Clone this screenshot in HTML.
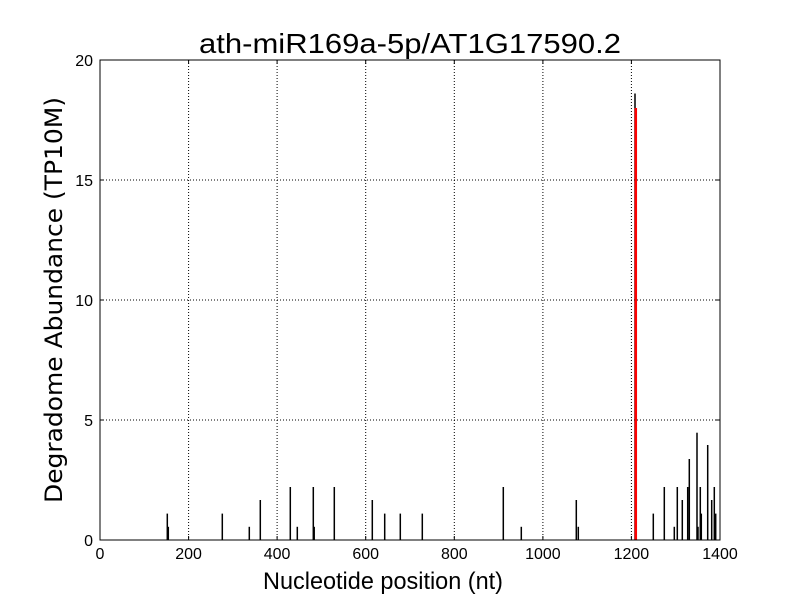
<!DOCTYPE html>
<html><head><meta charset="utf-8"><style>body{margin:0;background:#fff}svg{display:block}</style></head><body>
<svg width="800" height="600" xmlns="http://www.w3.org/2000/svg" font-family="DejaVu Sans, Liberation Sans, sans-serif">
<rect width="800" height="600" fill="#fff"/>
<g stroke="#000" stroke-width="1" stroke-dasharray="1,2">
<line x1="188.6" y1="60" x2="188.6" y2="540"/><line x1="277.1" y1="60" x2="277.1" y2="540"/><line x1="365.7" y1="60" x2="365.7" y2="540"/><line x1="454.3" y1="60" x2="454.3" y2="540"/><line x1="542.9" y1="60" x2="542.9" y2="540"/><line x1="631.4" y1="60" x2="631.4" y2="540"/>
<line x1="100" y1="420" x2="720" y2="420"/><line x1="100" y1="300" x2="720" y2="300"/><line x1="100" y1="180" x2="720" y2="180"/>
</g>
<g stroke="#000" stroke-width="1.5">
<line x1="167.3" y1="540" x2="167.3" y2="513.6"/><line x1="168.3" y1="540" x2="168.3" y2="526.8"/>
<line x1="222.3" y1="540" x2="222.3" y2="513.6"/><line x1="249.3" y1="540" x2="249.3" y2="526.8"/>
<line x1="260.3" y1="540" x2="260.3" y2="500"/><line x1="290.3" y1="540" x2="290.3" y2="487"/>
<line x1="297.3" y1="540" x2="297.3" y2="526.8"/><line x1="313.3" y1="540" x2="313.3" y2="487"/>
<line x1="314.2" y1="540" x2="314.2" y2="526.8"/><line x1="334.3" y1="540" x2="334.3" y2="487"/>
<line x1="372.3" y1="540" x2="372.3" y2="500"/><line x1="384.7" y1="540" x2="384.7" y2="513.6"/>
<line x1="400.3" y1="540" x2="400.3" y2="513.6"/><line x1="422.3" y1="540" x2="422.3" y2="513.6"/>
<line x1="503.3" y1="540" x2="503.3" y2="487"/><line x1="521.3" y1="540" x2="521.3" y2="526.8"/>
<line x1="576.3" y1="540" x2="576.3" y2="500"/><line x1="578.3" y1="540" x2="578.3" y2="526.8"/>
<line x1="635" y1="540" x2="635" y2="93.5"/>
<line x1="653.3" y1="540" x2="653.3" y2="513.6"/><line x1="664.3" y1="540" x2="664.3" y2="487"/>
<line x1="674.3" y1="540" x2="674.3" y2="526.8"/><line x1="677.3" y1="540" x2="677.3" y2="487"/>
<line x1="682.3" y1="540" x2="682.3" y2="500"/><line x1="687.7" y1="540" x2="687.7" y2="487"/>
<line x1="689.3" y1="540" x2="689.3" y2="459"/><line x1="697" y1="540" x2="697" y2="432.7"/>
<line x1="698" y1="540" x2="698" y2="526.8"/><line x1="700.3" y1="540" x2="700.3" y2="487"/>
<line x1="701.3" y1="540" x2="701.3" y2="513.6"/><line x1="707.7" y1="540" x2="707.7" y2="445"/>
<line x1="711.7" y1="540" x2="711.7" y2="500"/><line x1="714.3" y1="540" x2="714.3" y2="487"/>
<line x1="715.7" y1="540" x2="715.7" y2="513.6"/>
</g>
<line x1="635.8" y1="540" x2="635.8" y2="108" stroke="#f00" stroke-width="2.5"/>
<rect x="100" y="60" width="620" height="480" fill="none" stroke="#000" stroke-width="1"/>
<g stroke="#000">
<line x1="188.6" y1="540" x2="188.6" y2="536"/><line x1="277.1" y1="540" x2="277.1" y2="536"/><line x1="365.7" y1="540" x2="365.7" y2="536"/><line x1="454.3" y1="540" x2="454.3" y2="536"/><line x1="542.9" y1="540" x2="542.9" y2="536"/><line x1="631.4" y1="540" x2="631.4" y2="536"/>
<line x1="188.6" y1="60" x2="188.6" y2="64"/><line x1="277.1" y1="60" x2="277.1" y2="64"/><line x1="365.7" y1="60" x2="365.7" y2="64"/><line x1="454.3" y1="60" x2="454.3" y2="64"/><line x1="542.9" y1="60" x2="542.9" y2="64"/><line x1="631.4" y1="60" x2="631.4" y2="64"/>
<line x1="100" y1="420" x2="104" y2="420"/><line x1="100" y1="300" x2="104" y2="300"/><line x1="100" y1="180" x2="104" y2="180"/>
<line x1="720" y1="420" x2="716" y2="420"/><line x1="720" y1="300" x2="716" y2="300"/><line x1="720" y1="180" x2="716" y2="180"/>
</g>
<g font-size="16" fill="#000" text-anchor="middle" font-family="Liberation Sans, sans-serif">
<text x="100" y="559">0</text><text x="188.6" y="559">200</text><text x="277.1" y="559">400</text><text x="365.7" y="559">600</text><text x="454.3" y="559">800</text><text x="542.9" y="559">1000</text><text x="631.4" y="559">1200</text><text x="720" y="559">1400</text>
</g>
<g font-size="16" fill="#000" text-anchor="end" font-family="Liberation Sans, sans-serif">
<text x="93" y="546">0</text><text x="93" y="426">5</text><text x="93" y="306">10</text><text x="93" y="186">15</text><text x="93" y="66">20</text>
</g>
<text x="199" y="53" font-size="28" textLength="422" lengthAdjust="spacingAndGlyphs" font-family="Liberation Sans, sans-serif">ath-miR169a-5p/AT1G17590.2</text>
<text x="263" y="589" font-size="24" textLength="240" lengthAdjust="spacingAndGlyphs" font-family="Liberation Sans, sans-serif">Nucleotide position (nt)</text>
<text transform="translate(62,503) rotate(-90)" font-size="24" textLength="406" lengthAdjust="spacingAndGlyphs">Degradome Abundance (TP10M)</text>
</svg>
</body></html>
